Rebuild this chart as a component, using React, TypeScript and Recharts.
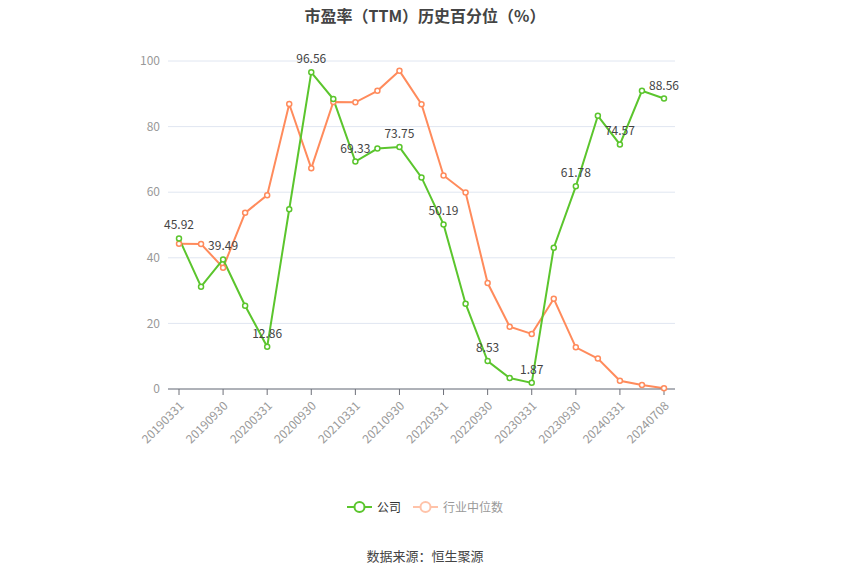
import { LineChart, Line, XAxis, YAxis, CartesianGrid, LabelList } from "recharts";

const DATES = [
  "20190331","20190630","20190930","20191231","20200331","20200630","20200930","20201231",
  "20210331","20210630","20210930","20211231","20220331","20220630","20220930","20221231",
  "20230331","20230630","20230930","20231231","20240331","20240630","20240708",
];
const COMPANY = [45.92, 31.2, 39.49, 25.4, 12.86, 54.8, 96.56, 88.4, 69.33, 73.3, 73.75, 64.5, 50.19, 26.0, 8.53, 3.35, 1.87, 43.1, 61.78, 83.3, 74.57, 90.9, 88.56];
const INDUSTRY = [44.3, 44.2, 37.0, 53.7, 59.1, 86.9, 67.3, 87.5, 87.4, 90.9, 97.0, 86.8, 65.1, 59.9, 32.3, 19.0, 16.8, 27.5, 12.7, 9.3, 2.5, 1.2, 0.2];
const Y_TICKS = [0, 20, 40, 60, 80, 100];

const GREEN = "#5bc52d";
const ORANGE = "#ff8b5c";
const FONT = "'Microsoft YaHei', 'Noto Sans CJK SC', sans-serif";

const data = DATES.map((d, i) => ({ date: d, company: COMPANY[i], industry: INDUSTRY[i] }));

function EveryOtherLabel(props: any) {
  const { x, y, value, index } = props;
  if (index % 2 !== 0) return null;
  return (
    <text x={x} y={y - 9} textAnchor="middle" fill="#444" fontSize={12} fontFamily={FONT}>
      {value}
    </text>
  );
}

function RotTick(props: any) {
  const { x, y, payload } = props;
  return (
    <g transform={`translate(${x},${y + 4})`}>
      <text x={0} y={0} dy={8} textAnchor="end" fill="#999" fontSize={12} fontFamily={FONT} transform="rotate(-45)">
        {payload.value}
      </text>
    </g>
  );
}

function LegendBox() {
  const items = [
    { name: "公司", color: GREEN, text: "#333" },
    { name: "行业中位数", color: "#ffc3a9", text: "#999" },
  ];
  return (
    <div style={{ position: "absolute", top: 498, width: 850, display: "flex", justifyContent: "center", gap: 12, fontSize: 12 }}>
      {items.map((it) => (
        <div key={it.name} style={{ display: "flex", alignItems: "center", gap: 5 }}>
          <svg width={25} height={14}>
            <line x1={0} y1={7} x2={25} y2={7} stroke={it.color} strokeWidth={2} />
            <circle cx={12.5} cy={7} r={5} fill="#fff" stroke={it.color} strokeWidth={2} />
          </svg>
          <span style={{ color: it.text }}>{it.name}</span>
        </div>
      ))}
    </div>
  );
}

export default function App() {
  return (
    <div style={{ position: "absolute", left: 0, top: 0, width: 850, height: 575, background: "#fff", fontFamily: FONT }}>
      <div style={{ position: "absolute", top: 3, width: 850, textAlign: "center", fontSize: 16, fontWeight: "bold", color: "#444" }}>
        市盈率（TTM）历史百分位（%）
      </div>
      <LineChart width={850} height={575} data={data} margin={{ top: 61, right: 175, bottom: 0, left: 118 }}>
        <CartesianGrid vertical={false} stroke="#e0e6f1" />
        <XAxis
          dataKey="date"
          interval={1}
          padding={{ left: 11, right: 11 }}
          stroke="#6e7079"
          tickLine={{ stroke: "#6e7079" }}
          tick={<RotTick />}
          height={186}
        />
        <YAxis
          domain={[0, 100]}
          ticks={Y_TICKS}
          axisLine={false}
          tickLine={false}
          width={50}
          tick={{ fill: "#999", fontSize: 12, fontFamily: FONT }}
        />
        <Line
          type="linear"
          dataKey="industry"
          name="行业中位数"
          stroke={ORANGE}
          strokeWidth={2}
          dot={{ r: 2.5, fill: "#fff", stroke: ORANGE, strokeWidth: 1.5 }}
          isAnimationActive={false}
        />
        <Line
          type="linear"
          dataKey="company"
          name="公司"
          stroke={GREEN}
          strokeWidth={2}
          dot={{ r: 2.5, fill: "#fff", stroke: GREEN, strokeWidth: 1.5 }}
          isAnimationActive={false}
        >
          <LabelList dataKey="company" content={<EveryOtherLabel />} />
        </Line>
      </LineChart>
      <LegendBox />
      <div style={{ position: "absolute", top: 546, width: 850, textAlign: "center", fontSize: 13, color: "#444" }}>
        数据来源：恒生聚源
      </div>
    </div>
  );
}
